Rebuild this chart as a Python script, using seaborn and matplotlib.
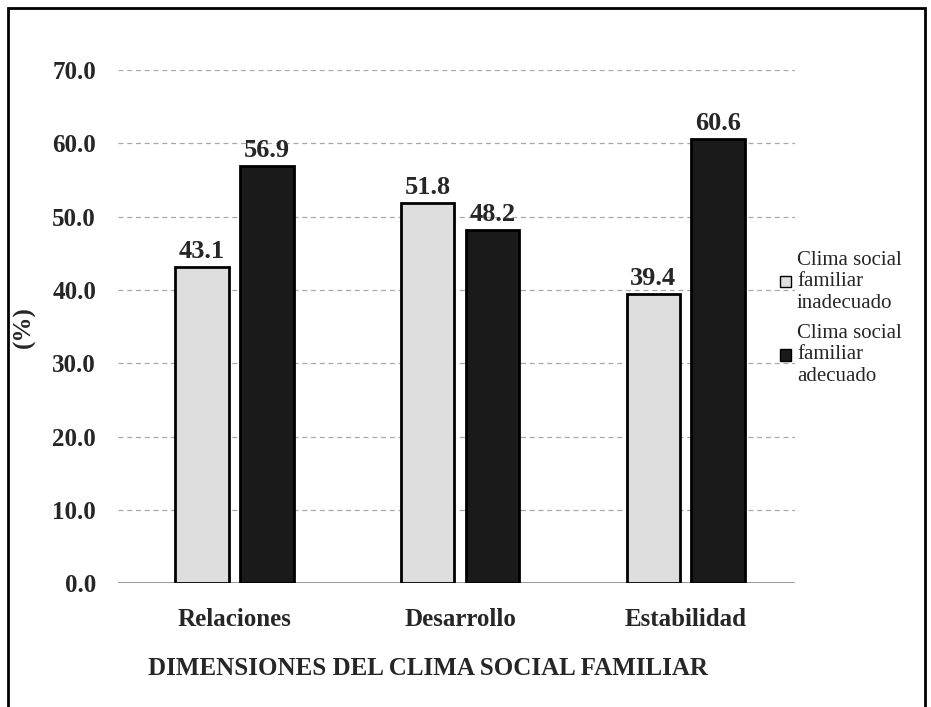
import matplotlib
matplotlib.use("Agg")
import matplotlib.pyplot as plt
import matplotlib.patches as mpatches
import seaborn as sns
import pandas as pd

# datos
dimensiones = ["Relaciones", "Desarrollo", "Estabilidad"]
inadecuado = [43.1, 51.8, 39.4]
adecuado = [56.9, 48.2, 60.6]
serie_1 = "Clima social\nfamiliar\ninadecuado"
serie_2 = "Clima social\nfamiliar\nadecuado"
yticks = [0, 10, 20, 30, 40, 50, 60, 70]

COLOR_CLARO = "#dedede"
COLOR_OSCURO = "#1a1a1a"

sns.set_theme(style="white")
plt.rcParams["font.family"] = ["Liberation Serif", "DejaVu Serif"]

df = pd.DataFrame({
    "dim": dimensiones * 2,
    "valor": inadecuado + adecuado,
    "serie": [serie_1] * 3 + [serie_2] * 3,
})

fig = plt.figure(figsize=(9.31, 7.07), dpi=100)
ax = fig.add_axes([0.127, 0.175, 0.727, 0.726])

sns.barplot(data=df, x="dim", y="valor", hue="serie",
            palette=[COLOR_CLARO, COLOR_OSCURO], width=0.576, gap=0.18,
            edgecolor="black", linewidth=2, legend=False, ax=ax)

for cont in ax.containers:
    ax.bar_label(cont, fmt="%.1f", padding=3, fontsize=19,
                 fontweight="bold")

ax.set_ylim(0, 70)
ax.set_xlim(-0.515, 2.485)
ax.set_yticks(yticks)
ax.set_yticklabels([f"{v:.1f}" for v in yticks], fontsize=18,
                   fontweight="bold")
ax.tick_params(axis="x", labelsize=18, pad=12)
for lbl in ax.get_xticklabels():
    lbl.set_fontweight("bold")
ax.tick_params(axis="y", pad=10)
ax.grid(axis="y", color="#a8a8a8", linestyle=(0, (4, 3)), linewidth=0.9)
ax.set_axisbelow(True)
for s in ax.spines.values():
    s.set_visible(False)
ax.axhline(0, color="#888888", linewidth=1.2, zorder=0)

ax.set_xlabel("")
ax.set_ylabel("(%)", fontsize=18, fontweight="bold", labelpad=12)
fig.text(0.159, 0.055, "DIMENSIONES DEL CLIMA SOCIAL FAMILIAR",
         fontsize=18, fontweight="bold", ha="left", va="center")

handles = [mpatches.Patch(facecolor=COLOR_CLARO, edgecolor="black", linewidth=1),
           mpatches.Patch(facecolor=COLOR_OSCURO, edgecolor="black", linewidth=1)]
fig.legend(handles, [serie_1, serie_2], loc="upper left",
           bbox_to_anchor=(0.818, 0.672), frameon=False, fontsize=15,
           handlelength=0.5, handleheight=0.5, handletextpad=0.3,
           labelspacing=0.5)

# marco de la figura
fig.patches.append(mpatches.Rectangle((0.009, -0.05), 0.985, 1.038,
                                      transform=fig.transFigure,
                                      fill=False, edgecolor="black",
                                      linewidth=2))

fig.savefig("out.png", dpi=100)
